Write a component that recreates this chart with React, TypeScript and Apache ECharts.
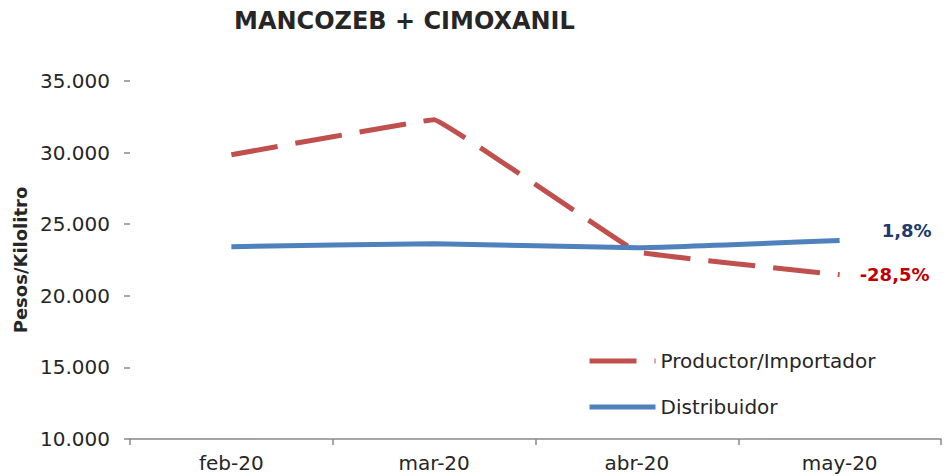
import React, { useEffect, useRef } from "react";
import * as echarts from "echarts";

const categories = ["feb-20", "mar-20", "abr-20", "may-20"];
const productor = [29850, 32300, 23080, 21470];
const distribuidor = [23430, 23630, 23360, 23860];
const productorChange = "-28,5%";
const distribuidorChange = "1,8%";

const FONT = "'DejaVu Sans', sans-serif";

export default function App() {
  const ref = useRef<HTMLDivElement>(null);
  useEffect(() => {
    if (!ref.current) return;
    const chart = echarts.init(ref.current, undefined, { renderer: "svg" });
    chart.setOption({
      animation: false,
      backgroundColor: "#ffffff",
      title: {
        text: "MANCOZEB + CIMOXANIL",
        left: 229,
        top: 4,
        textStyle: { fontFamily: FONT, fontSize: 24, fontWeight: "bold", color: "#262626" },
      },
      grid: { left: 130, right: 4, top: 81, bottom: 37, containLabel: false },
      legend: {
        orient: "vertical",
        left: 582,
        top: 346,
        itemWidth: 66,
        itemHeight: 18,
        itemGap: 26,
        itemStyle: { opacity: 0 },
        lineStyle: { width: 5 },
        textStyle: { fontFamily: FONT, fontSize: 20, color: "#262626" },
        data: ["Productor/Importador", "Distribuidor"],
      },
      xAxis: {
        type: "category",
        data: categories,
        boundaryGap: true,
        axisLine: { lineStyle: { color: "#888888", width: 1.5 } },
        axisTick: { show: true, length: 6, lineStyle: { color: "#888888", width: 1.5 } },
        axisLabel: { fontFamily: FONT, fontSize: 20, color: "#262626", margin: 14 },
      },
      yAxis: {
        type: "value",
        min: 10000,
        max: 35000,
        interval: 5000,
        name: "Pesos/Kilolitro",
        nameLocation: "middle",
        nameGap: 100,
        nameTextStyle: { fontFamily: FONT, fontSize: 18, fontWeight: "bold", color: "#262626" },
        axisLine: { show: false },
        axisTick: { show: true, length: 6, lineStyle: { color: "#888888", width: 1.5 } },
        splitLine: { show: false },
        axisLabel: {
          fontFamily: FONT,
          fontSize: 20,
          color: "#262626",
          margin: 20,
          formatter: (v: number) => v.toLocaleString("de-DE"),
        },
      },
      series: [
        {
          name: "Productor/Importador",
          type: "line",
          data: productor,
          symbol: "none",
          smooth: 0.04,
          color: "#C0504D",
          lineStyle: { color: "#C0504D", width: 5, type: [47, 18] },
          endLabel: {
            show: true,
            formatter: () => productorChange,
            distance: 20,
            offset: [0, 0],
            fontFamily: FONT,
            fontSize: 18,
            fontWeight: "bold",
            color: "#C00000",
          },
        },
        {
          name: "Distribuidor",
          type: "line",
          data: distribuidor,
          symbol: "none",
          smooth: 0.1,
          color: "#4F81BD",
          lineStyle: { color: "#4F81BD", width: 5 },
          endLabel: {
            show: true,
            formatter: () => distribuidorChange,
            distance: 42,
            offset: [0, -10],
            fontFamily: FONT,
            fontSize: 18,
            fontWeight: "bold",
            color: "#1F3A6E",
          },
        },
      ],
    });
    return () => chart.dispose();
  }, []);
  return <div ref={ref} style={{ width: 945, height: 476, position: "fixed", left: 0, top: 0 }} />;
}
